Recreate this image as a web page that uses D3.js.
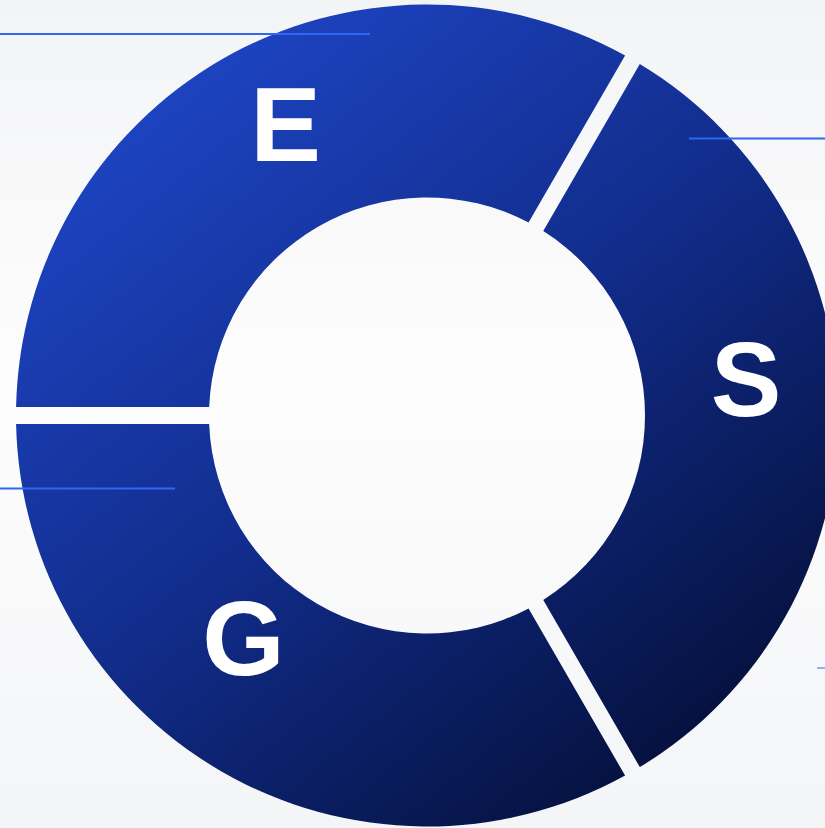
<!DOCTYPE html>
<html>
<head>
<meta charset="utf-8">
<script src="https://cdn.jsdelivr.net/npm/d3@7"></script>
<style>
  html, body { margin: 0; padding: 0; background: #f7f8fa; }
  svg { display: block; }
</style>
</head>
<body>
<svg id="renderer" width="825" height="828"></svg>
<script>
// pillars of the donut, equal share each
const pillars = ['E', 'S', 'G'];
const shares = [1, 1, 1];

const WIDTH = 825, HEIGHT = 828;
const CX = 427, CY = 415.5;
const OUTER_R = 411, INNER_R = 218;
const GAP = 17;

const svg = d3.select('#renderer');
const defs = svg.append('defs');

// background wash
let bg = defs.append('linearGradient')
    .attr('id', 'bg')
    .attr('x1', 0).attr('y1', 0).attr('x2', 0).attr('y2', 1);
bg.append('stop').attr('offset', '0%').attr('stop-color', '#f3f4f6');
bg.append('stop').attr('offset', '45%').attr('stop-color', '#fdfdfd');
bg.append('stop').attr('offset', '100%').attr('stop-color', '#f4f5f7');

svg.append('rect')
    .attr('width', WIDTH)
    .attr('height', HEIGHT)
    .attr('fill', 'url(#bg)');

// ring gradient, light blue top-left to navy bottom-right
// (userSpaceOnUse is the translated group's space, so centre = 0,0)
let ringGrad = defs.append('linearGradient')
    .attr('id', 'ring')
    .attr('gradientUnits', 'userSpaceOnUse')
    .attr('x1', -OUTER_R * 0.8).attr('y1', -OUTER_R)
    .attr('x2', OUTER_R * 0.8).attr('y2', OUTER_R);
ringGrad.append('stop').attr('offset', '0%').attr('stop-color', '#2049cf');
ringGrad.append('stop').attr('offset', '50%').attr('stop-color', '#112c8a');
ringGrad.append('stop').attr('offset', '100%').attr('stop-color', '#020a2b');

let g = svg.append('g')
    .attr('transform', 'translate(' + CX + ',' + CY + ')');

// first slice starts at 9 o'clock and runs clockwise
const pie = d3.pie()
    .sort(null)
    .startAngle(-Math.PI / 2)
    .endAngle(Math.PI * 3 / 2)
    .value(function (d) { return d; });

const arc = d3.arc()
    .innerRadius(INNER_R)
    .outerRadius(OUTER_R)
    .padRadius(100)
    .padAngle(GAP / 100);

const arcs = pie(shares);

g.selectAll('path.slice')
    .data(arcs)
    .enter()
    .append('path')
    .attr('class', 'slice')
    .attr('d', arc)
    .attr('fill', 'url(#ring)');

// labels: near the middle of each band, nudged like the original
const labelArc = d3.arc().innerRadius(315).outerRadius(315);
const nudges = [[16, -20], [4, -38], [-26, -51]];

g.selectAll('text.pillar')
    .data(arcs)
    .enter()
    .append('text')
    .attr('class', 'pillar')
    .attr('x', function (d, i) { return labelArc.centroid(d)[0] + nudges[i][0]; })
    .attr('y', function (d, i) { return labelArc.centroid(d)[1] + nudges[i][1]; })
    .attr('text-anchor', 'middle')
    .attr('dy', '0.36em')
    .attr('fill', '#ffffff')
    .attr('font-family', '"Liberation Sans", Arial, sans-serif')
    .attr('font-weight', 'bold')
    .attr('font-size', 106)
    .text(function (d, i) { return pillars[i]; });

// thin blue leader lines drawn over the ring
const leaders = [
    {x1: 0, x2: 370, y: 34, op: 1},
    {x1: 689, x2: WIDTH, y: 138.5, op: 1},
    {x1: 0, x2: 175, y: 488.5, op: 1},
    {x1: 817, x2: WIDTH, y: 668, op: 0.5}
];
svg.selectAll('line.leader')
    .data(leaders)
    .enter()
    .append('line')
    .attr('class', 'leader')
    .attr('x1', function (d) { return d.x1; })
    .attr('x2', function (d) { return d.x2; })
    .attr('y1', function (d) { return d.y; })
    .attr('y2', function (d) { return d.y; })
    .attr('stroke', '#2f66f2')
    .attr('stroke-opacity', function (d) { return d.op; })
    .attr('stroke-width', 2);
</script>
</body>
</html>
